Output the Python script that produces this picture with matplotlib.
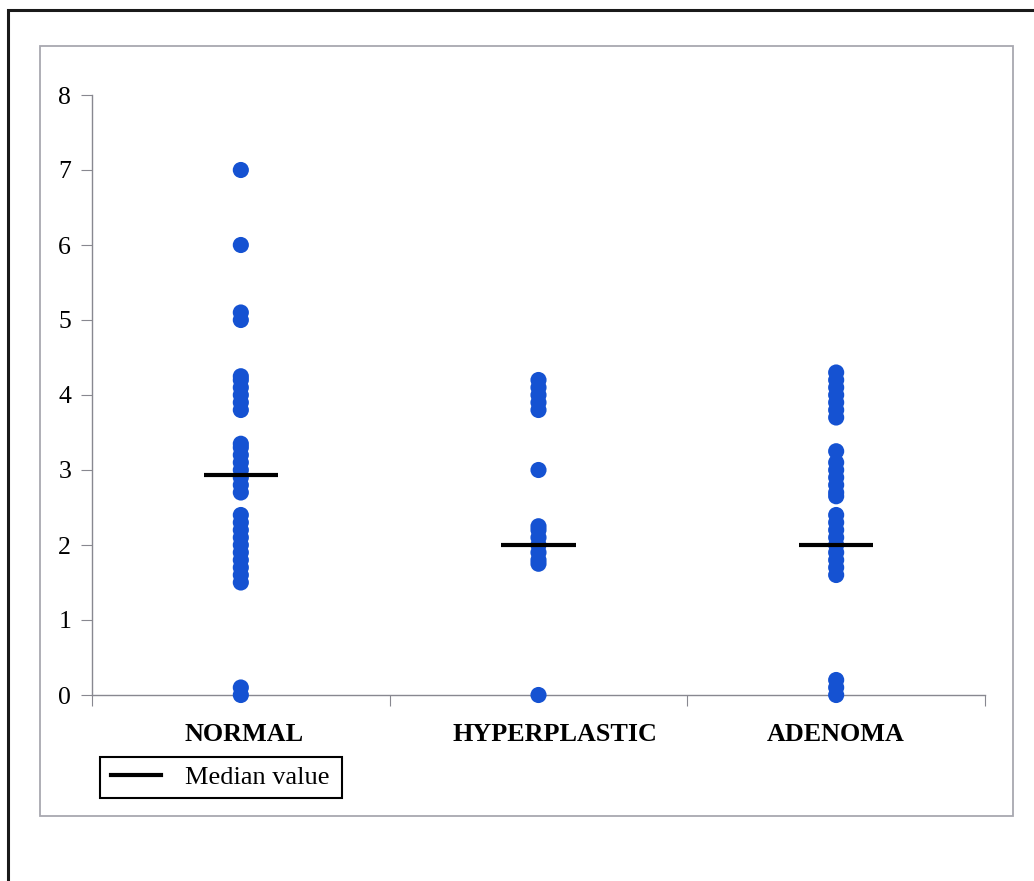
import matplotlib
matplotlib.use("Agg")
import matplotlib.pyplot as plt
from matplotlib.lines import Line2D
from matplotlib.patches import Rectangle
from matplotlib.transforms import ScaledTranslation

categories = ["NORMAL", "HYPERPLASTIC", "ADENOMA"]
normal = [7.0, 6.0, 5.1, 5.0, 4.25, 4.2, 4.1, 4.0, 3.9, 3.8,
          3.35, 3.3, 3.2, 3.1, 3.0, 2.9, 2.8, 2.7,
          2.4, 2.3, 2.2, 2.1, 2.0, 1.9, 1.8, 1.7, 1.6, 1.5, 0.1, 0.0]
hyperplastic = [4.2, 4.1, 4.0, 3.9, 3.8, 3.0,
                2.25, 2.2, 2.1, 2.0, 1.9, 1.8, 1.75, 0.0]
adenoma = [4.3, 4.2, 4.1, 4.0, 3.9, 3.8, 3.7,
           3.25, 3.1, 3.0, 2.9, 2.8, 2.7, 2.65,
           2.4, 2.3, 2.2, 2.1, 2.0, 1.9, 1.8, 1.7, 1.6, 0.2, 0.1, 0.0]
medians = [2.93, 2.0, 2.0]
yticks = [0, 1, 2, 3, 4, 5, 6, 7, 8]

plt.rcParams['font.family'] = ['Liberation Serif', 'DejaVu Serif']

W, H = 1034, 881
fig = plt.figure(figsize=(W / 100, H / 100), dpi=100)
fig.patch.set_facecolor('white')

# frames
fig.add_artist(Rectangle((8 / W, -0.05), 1.2, 1 - 10 / H + 0.05, transform=fig.transFigure,
                         fill=False, edgecolor='#1a1a1a', linewidth=2.2))
fig.add_artist(Rectangle((40 / W, 1 - 816 / H), (1013 - 40) / W, (816 - 46) / H,
                         transform=fig.transFigure, fill=False, edgecolor='#a8a8b0', linewidth=1.3))

ax = fig.add_axes([92 / W, 1 - 695 / H, (985 - 92) / W, (695 - 95) / H])
ax.set_facecolor('none')

series = [normal, hyperplastic, adenoma]
color = '#1552d2'
for i, vals in enumerate(series):
    ax.scatter([i + 0.5] * len(vals), vals, s=135, color=color, edgecolors='none',
               zorder=3, clip_on=False)
    ax.plot([i + 0.5 - 0.125, i + 0.5 + 0.125], [medians[i], medians[i]],
            color='black', linewidth=3, solid_capstyle='butt', zorder=4)

ax.set_xlim(0, 3)
ax.set_ylim(0, 8)
ax.set_yticks(yticks)
ax.set_yticklabels([str(t) for t in yticks], fontsize=18.5)
ax.set_xticks([0, 1, 2, 3])
ax.set_xticklabels([])
ax.set_xticks([0.5, 1.5, 2.5], minor=True)
ax.set_xticklabels(categories, minor=True, fontsize=18.8, fontweight='bold')
ax.tick_params(axis='x', which='minor', length=0, pad=20)
ax.tick_params(axis='x', which='major', length=8, color='#888890', direction='out')
ax.tick_params(axis='y', length=8, color='#888890', direction='out', pad=7)
# small horizontal offsets of category labels as in the original layout
for lab, dx in zip(ax.get_xticklabels(minor=True), [3, 16, 0]):
    lab.set_transform(lab.get_transform() + ScaledTranslation(dx / 100, 0, fig.dpi_scale_trans))
for s in ['top', 'right']:
    ax.spines[s].set_visible(False)
for s in ['left', 'bottom']:
    ax.spines[s].set_color('#888890')
    ax.spines[s].set_linewidth(1.0)

# legend: box drawn manually, entries via legend
fig.add_artist(Rectangle((100 / W, 1 - 798 / H), (342 - 100) / W, (798 - 757) / H,
                         transform=fig.transFigure, fill=False, edgecolor='black', linewidth=1.5))
leg = fig.legend(handles=[Line2D([], [], color='black', linewidth=3)], labels=['Median value'],
                 loc='center left', bbox_to_anchor=(103 / W, 1 - 777 / H),
                 bbox_transform=fig.transFigure, frameon=False,
                 borderaxespad=0, fontsize=19, handlelength=1.9, handletextpad=0.9,
                 borderpad=0.3)

fig.savefig('out.png', dpi=100)
